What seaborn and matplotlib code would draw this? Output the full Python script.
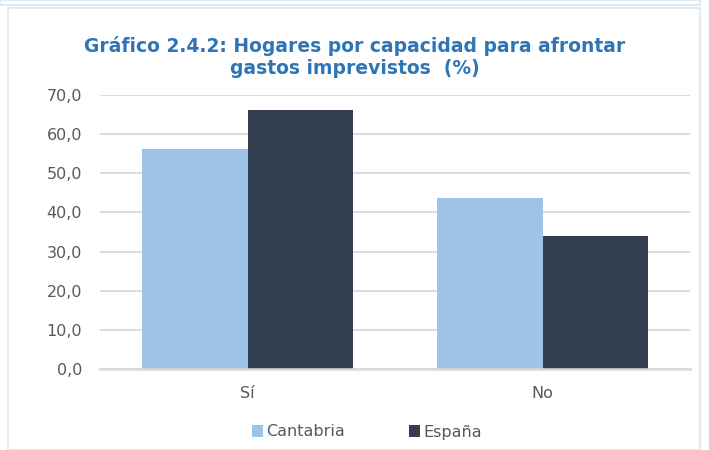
import matplotlib
matplotlib.use("Agg")
import matplotlib.pyplot as plt
import matplotlib.patches as mpatches
import seaborn as sns
import pandas as pd

categories = ["Sí", "No"]
series_names = ["Cantabria", "España"]
cantabria = [56.3, 43.7]
espana = [66.1, 33.9]
yticks = [0, 10, 20, 30, 40, 50, 60, 70]
colors = ["#9DC3E6", "#333F50"]

df = pd.DataFrame({
    "cat": categories * 2,
    "serie": [series_names[0]] * 2 + [series_names[1]] * 2,
    "val": cantabria + espana,
})

sns.set_theme(style="white")
plt.rcParams["font.family"] = ["DejaVu Sans"]

fig = plt.figure(figsize=(7.09, 4.5), dpi=100)
# outer frame
fig.patches.append(mpatches.Rectangle((8/709, 0.0), 692/709, 1 - 8/450, transform=fig.transFigure,
                                      fill=False, edgecolor="#DDEBF7", linewidth=1.5))
fig.patches.append(mpatches.Rectangle((0, 1 - 5/450), 700/709, 5/450, transform=fig.transFigure,
                                      fill=False, edgecolor="#DDEBF7", linewidth=1.5))

ax = fig.add_axes([100/709, 1 - 369/450, 590/709, (369 - 95)/450])
sns.barplot(data=df, x="cat", y="val", hue="serie", order=categories,
            hue_order=series_names, palette=colors, width=0.715, gap=0,
            saturation=1, ax=ax, legend=True, linewidth=0, edgecolor="none")

ax.set_ylim(0, 70)
ax.set_xlim(-0.5, 1.5)
ax.set_yticks(yticks)
ax.set_yticklabels([f"{v:.1f}".replace(".", ",") for v in yticks], color="#595959", fontsize=11.5)
ax.set_xticklabels(categories, color="#595959", fontsize=11.5)
ax.tick_params(axis="y", length=0, pad=13)
ax.tick_params(axis="x", length=0, pad=12)
ax.set_xlabel("")
ax.set_ylabel("")
ax.yaxis.grid(True, color="#D9D9D9", linewidth=1.3)
ax.set_axisbelow(True)
for s in ["top", "right", "left"]:
    ax.spines[s].set_visible(False)
ax.spines["bottom"].set_color("#D9D9D9")
ax.spines["bottom"].set_linewidth(1.8)
ax.spines["bottom"].set_zorder(5)

leg = ax.legend(loc="center", bbox_to_anchor=(367/709, 1 - 432/450), bbox_transform=fig.transFigure,
                ncol=2, frameon=False,
                fontsize=11.5, handlelength=0.7, handleheight=0.7, handletextpad=0.2,
                columnspacing=4.0)
for t in leg.get_texts():
    t.set_color("#595959")

fig.text(0.5, 1 - 57/450, "Gráfico 2.4.2: Hogares por capacidad para afrontar\ngastos imprevistos  (%)",
         ha="center", va="center", fontsize=13.5, fontweight="bold", color="#2E75B6",
         linespacing=1.15)

fig.savefig("out.png", dpi=100)
